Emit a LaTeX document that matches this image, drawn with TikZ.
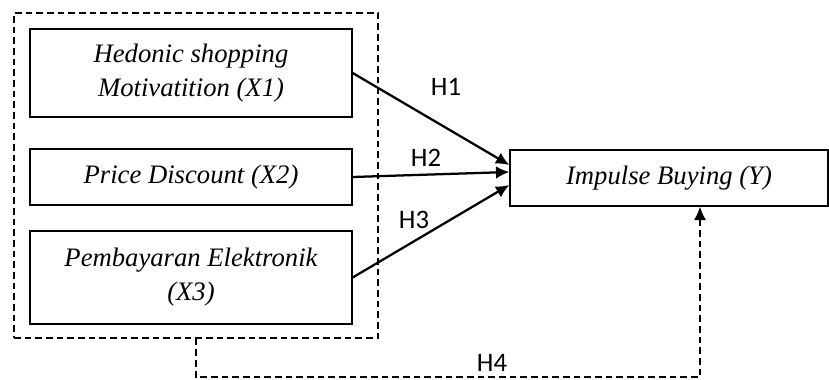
\documentclass[tikz,border=0pt]{standalone}
\usepackage{fontspec}
\setmainfont{Liberation Serif}
\newfontfamily\labelfont{Carlito}
\usetikzlibrary{arrows.meta}

\begin{document}
\begin{tikzpicture}[
  x=0.75pt, y=-0.75pt,
  varbox/.style={draw, line width=1pt, align=center, font=\fontsize{20}{25.5}\selectfont\itshape},
  hyplabel/.style={font=\fontsize{20}{24}\selectfont\labelfont},
  arrow/.style={-{Latex[length=10pt,width=9.5pt]}, line width=1.7pt},
  dasharrow/.style={-{Latex[length=10pt,width=9pt]}, line width=1.1pt, dash pattern=on 5pt off 3pt},
]
\useasboundingbox (0,0) rectangle (829,379);

% Group box round the three variables
\node[draw, line width=1.1pt, dash pattern=on 5pt off 3pt, minimum width=273pt, minimum height=243.75pt] (grp) at (196,175.5) {};

% Independent variables
\node[varbox, minimum width=241.5pt, minimum height=66pt] (x1) at (191,73) {Hedonic shopping\\Motivatition (X1)};
\node[varbox, minimum width=241.5pt, minimum height=42pt] (x2) at (191,177) {Price Discount (X2)};
\node[varbox, minimum width=241.5pt, minimum height=69.75pt] (x3) at (191,277.5) {Pembayaran Elektronik\\(X3)};

% Dependent variable
\node[varbox, minimum width=238.5pt, minimum height=42pt] (y) at (669,178) {Impulse Buying (Y)};

% Hypotheses
\draw[arrow] (x1.east) -- ([yshift=9.75pt]y.west);
\draw[arrow] (x2.east) -- ([yshift=4.5pt]y.west);
\draw[arrow] (x3.east) -- ([yshift=-5.25pt]y.west);
\coordinate (base) at (0,377);
\draw[dasharrow] (grp.south) -- (grp.south |- base) -| ([xshift=23.25pt]y.south);

\node[hyplabel] (h1) at (446,87) {H1};
\node[hyplabel] (h2) at (426,158) {H2};
\node[hyplabel] (h3) at (414,220) {H3};
\node[hyplabel] (h4) at (492,363) {H4};
\end{tikzpicture}
\end{document}
